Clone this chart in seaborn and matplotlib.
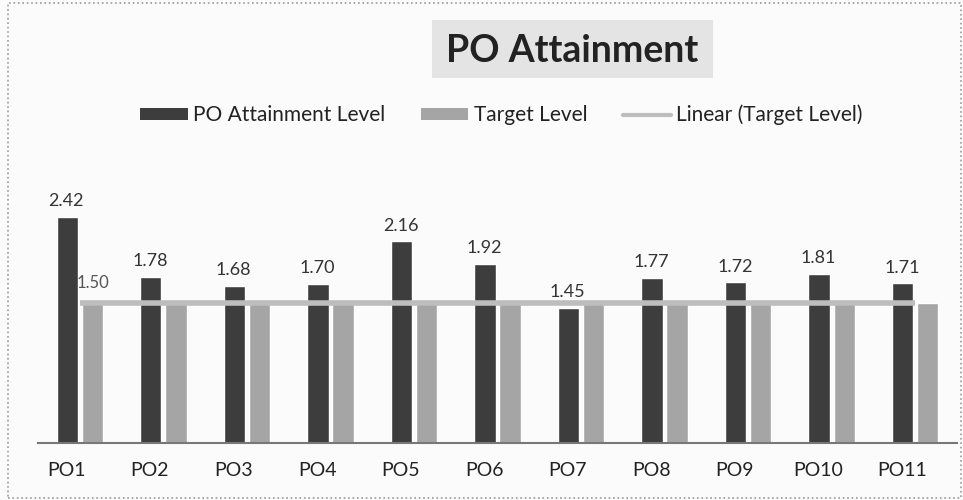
import matplotlib
matplotlib.use('Agg')
import matplotlib.pyplot as plt
import seaborn as sns
import pandas as pd
from matplotlib.patches import Rectangle, Patch
from matplotlib.lines import Line2D

categories = ['PO1', 'PO2', 'PO3', 'PO4', 'PO5', 'PO6', 'PO7', 'PO8', 'PO9', 'PO10', 'PO11']
attainment = [2.42, 1.78, 1.68, 1.70, 2.16, 1.92, 1.45, 1.77, 1.72, 1.81, 1.71]
target = [1.50] * 11
series_names = ['PO Attainment Level', 'Target Level']

dark = '#3d3d3d'
light = '#a5a5a5'
trend = '#bdbdbd'

df = pd.DataFrame({
    'PO': categories * 2,
    'value': attainment + target,
    'series': [series_names[0]] * 11 + [series_names[1]] * 11,
})

sns.set_style('white')
plt.rcParams['font.family'] = ['Lato', 'DejaVu Sans']

fig = plt.figure(figsize=(9.63, 5), dpi=100)
fig.patch.set_facecolor('#fbfbfb')
ax = fig.add_axes([38 / 963, 0.114, 919 / 963, 0.56])
ax.set_facecolor('#fbfbfb')

sns.barplot(data=df, x='PO', y='value', hue='series', palette=[dark, light],
            width=0.6, gap=0.15, ax=ax, legend=False, saturation=1)

# linear trend of the target series (constant target -> flat line)
ax.plot(range(len(categories)), target, color=trend, lw=4, zorder=5,
        solid_capstyle='butt')

# data labels
for i, v in enumerate(attainment):
    ax.text(i - 0.16, v + 0.17, f'{v:.2f}', ha='center', va='center',
            fontsize=13, color='#333333')
ax.text(0.16, target[0] + 0.21, f'{target[0]:.2f}', ha='center', va='center',
        fontsize=12, color='#555555')

ax.set_ylim(0, 3.0)
ax.set_xlim(-0.5, len(categories) - 0.5)
ax.set_xticks([i - 0.16 for i in range(len(categories))])
ax.set_xticklabels(categories)
ax.set_xlabel('')
ax.set_ylabel('')
ax.set_yticks([])
ax.tick_params(axis='x', length=0, labelsize=14, pad=14, colors='#222222')
for s in ['top', 'right', 'left']:
    ax.spines[s].set_visible(False)
ax.spines['bottom'].set_color('#777777')
ax.spines['bottom'].set_linewidth(1.5)

# title with shaded box
fig.patches.append(Rectangle((432 / 963, 1 - 78 / 500), 281 / 963, 58 / 500,
                             transform=fig.transFigure, facecolor='#e4e4e4',
                             edgecolor='none', zorder=0))
fig.text(572 / 963, 1 - 51 / 500, 'PO Attainment', ha='center', va='center',
         fontsize=27, fontweight='bold', color='#222222')

handles = [
    Patch(facecolor=dark, edgecolor='none'),
    Patch(facecolor=light, edgecolor='none'),
    Line2D([0], [0], color=trend, lw=3),
]
fig.legend(handles, series_names + ['Linear (Target Level)'], loc='center',
           bbox_to_anchor=(501 / 963, 1 - 115 / 500), ncol=3, frameon=False,
           fontsize=15, handlelength=2.3, handleheight=0.5, handletextpad=0.25,
           columnspacing=1.7, labelcolor='#222222')

# outer frame
fig.patches.append(Rectangle((0.008, 0.005), 0.99, 0.99, transform=fig.transFigure,
                             fill=False, edgecolor='#999999', lw=1.2, linestyle=':'))

fig.savefig('out.png', dpi=100, facecolor=fig.get_facecolor())
